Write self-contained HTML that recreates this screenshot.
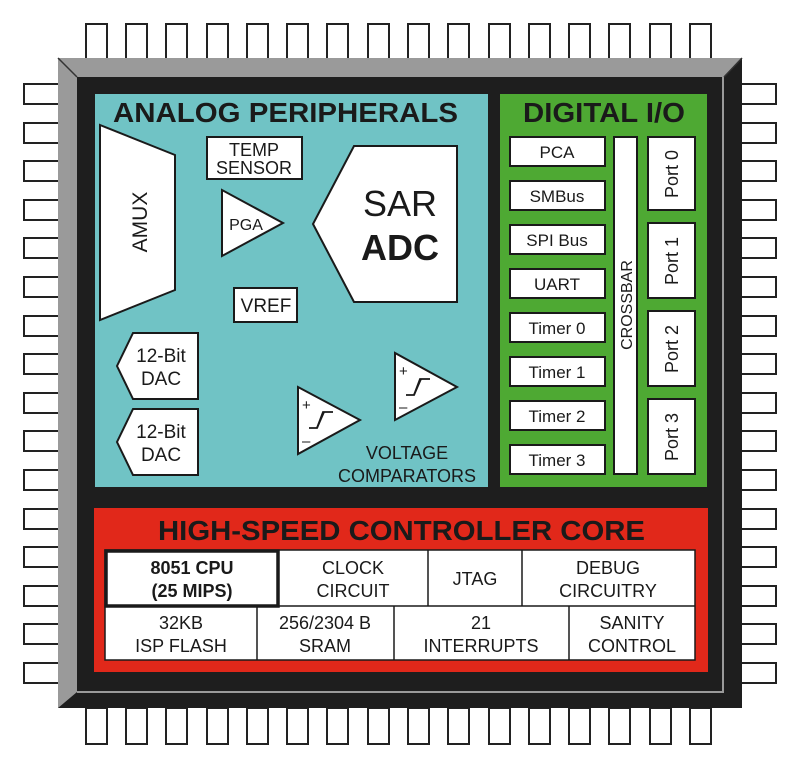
<!DOCTYPE html>
<html><head><meta charset="utf-8"><style>html,body{margin:0;padding:0;background:#fff}svg{display:block}</style></head><body>
<svg width="800" height="767" viewBox="0 0 800 767" xmlns="http://www.w3.org/2000/svg" font-family="Liberation Sans, Arial, sans-serif" fill="#1a1a1a">
<g fill="#fff" stroke="#222" stroke-width="2">
<g id="tp">
<rect x="86" y="24" width="21" height="36"/><rect x="126" y="24" width="21" height="36"/><rect x="166" y="24" width="21" height="36"/><rect x="207" y="24" width="21" height="36"/><rect x="247" y="24" width="21" height="36"/><rect x="287" y="24" width="21" height="36"/><rect x="327" y="24" width="21" height="36"/><rect x="368" y="24" width="21" height="36"/><rect x="408" y="24" width="21" height="36"/><rect x="448" y="24" width="21" height="36"/><rect x="489" y="24" width="21" height="36"/><rect x="529" y="24" width="21" height="36"/><rect x="569" y="24" width="21" height="36"/><rect x="609" y="24" width="21" height="36"/><rect x="650" y="24" width="21" height="36"/><rect x="690" y="24" width="21" height="36"/>
</g>
<use href="#tp" y="684"/>
<g id="lp">
<rect x="24" y="84" width="36" height="20"/><rect x="24" y="123" width="36" height="20"/><rect x="24" y="161" width="36" height="20"/><rect x="24" y="200" width="36" height="20"/><rect x="24" y="238" width="36" height="20"/><rect x="24" y="277" width="36" height="20"/><rect x="24" y="316" width="36" height="20"/><rect x="24" y="354" width="36" height="20"/><rect x="24" y="393" width="36" height="20"/><rect x="24" y="431" width="36" height="20"/><rect x="24" y="470" width="36" height="20"/><rect x="24" y="509" width="36" height="20"/><rect x="24" y="547" width="36" height="20"/><rect x="24" y="586" width="36" height="20"/><rect x="24" y="624" width="36" height="20"/><rect x="24" y="663" width="36" height="20"/>
</g>
<use href="#lp" x="716"/>
</g>
<rect x="58" y="58" width="684" height="650" fill="#1e1e1e"/>
<polygon points="58,58 742,58 724,77 77,77 77,692 58,708" fill="#9a9a9a"/>
<line x1="58" y1="58" x2="77" y2="77" stroke="#333" stroke-width="1.5"/>
<line x1="742" y1="58" x2="724" y2="77" stroke="#333" stroke-width="1.5"/>
<polyline points="77,692 723,692 723,77" fill="none" stroke="#9a9a9a" stroke-width="2"/>
<rect x="95" y="94" width="393" height="393" fill="#70c3c5"/>
<rect x="500" y="94" width="207" height="393" fill="#4ea933"/>
<rect x="94" y="508" width="614" height="164" fill="#e1281a"/>
<text x="113" y="122" font-size="28" font-weight="bold" textLength="345" lengthAdjust="spacingAndGlyphs">ANALOG PERIPHERALS</text>
<text x="523" y="122" font-size="28" font-weight="bold" textLength="162" lengthAdjust="spacingAndGlyphs">DIGITAL I/O</text>
<text x="158" y="540" font-size="28" font-weight="bold" textLength="487" lengthAdjust="spacingAndGlyphs">HIGH-SPEED CONTROLLER CORE</text>
<g fill="#fff" stroke="#1a1a1a" stroke-width="2">
<polygon points="100,125 175,155 175,290 100,320"/>
<rect x="207" y="137" width="95" height="42"/>
<polygon points="222,190 222,256 283,223"/>
<polygon points="354,146 457,146 457,302 354,302 313,224"/>
<rect x="234" y="288" width="63" height="34"/>
<polygon points="133,333 198,333 198,399 133,399 117,366"/>
<polygon points="133,409 198,409 198,475 133,475 117,442"/>
<polygon points="298,387 298,454 360,420"/>
<polygon points="395,353 395,420 457,387"/>
</g>
<g font-size="18" text-anchor="middle">
<text transform="translate(147,222) rotate(-90)" font-size="21">AMUX</text>
<text x="254" y="156">TEMP</text><text x="254" y="174">SENSOR</text>
<text x="246" y="230" font-size="16">PGA</text>
<text x="400" y="216" font-size="36">SAR</text>
<text x="400" y="260" font-size="36" font-weight="bold">ADC</text>
<text x="266" y="312" font-size="19">VREF</text>
<text x="161" y="362" font-size="19">12-Bit</text><text x="161" y="385" font-size="19">DAC</text>
<text x="161" y="438" font-size="19">12-Bit</text><text x="161" y="461" font-size="19">DAC</text>
<text x="407" y="459">VOLTAGE</text><text x="407" y="482">COMPARATORS</text>
</g>
<g fill="none" stroke="#1a1a1a" stroke-width="1.8">
<polyline points="309,428 317,428 323,412 333,412"/>
<polyline points="317,428 324,412"/>
<polyline points="406,395 414,395 420,379 430,379"/>
<polyline points="414,395 421,379"/>
</g>
<g font-size="15"><text x="302" y="410">+</text><text x="302" y="446">–</text><text x="399" y="376">+</text><text x="399" y="412">–</text></g>
<g fill="#fff" stroke="#1a1a1a" stroke-width="2">
<rect x="510" y="137" width="95" height="29"/><rect x="510" y="181" width="95" height="29"/><rect x="510" y="225" width="95" height="29"/><rect x="510" y="269" width="95" height="29"/><rect x="510" y="313" width="95" height="29"/><rect x="510" y="357" width="95" height="29"/><rect x="510" y="401" width="95" height="29"/><rect x="510" y="445" width="95" height="29"/>
<rect x="614" y="137" width="23" height="337"/>
<rect x="648" y="137" width="47" height="73"/><rect x="648" y="223" width="47" height="75"/><rect x="648" y="311" width="47" height="75"/><rect x="648" y="399" width="47" height="75"/>
</g>
<g font-size="17" text-anchor="middle">
<text x="557" y="158">PCA</text><text x="557" y="202">SMBus</text><text x="557" y="246">SPI Bus</text><text x="557" y="290">UART</text><text x="557" y="334">Timer 0</text><text x="557" y="378">Timer 1</text><text x="557" y="422">Timer 2</text><text x="557" y="466">Timer 3</text>
<text transform="translate(632,305) rotate(-90)" font-size="16">CROSSBAR</text>
<text transform="translate(678,174) rotate(-90)" font-size="18">Port 0</text>
<text transform="translate(678,261) rotate(-90)" font-size="18">Port 1</text>
<text transform="translate(678,349) rotate(-90)" font-size="18">Port 2</text>
<text transform="translate(678,437) rotate(-90)" font-size="18">Port 3</text>
</g>
<g fill="#fff" stroke="#1a1a1a" stroke-width="1.5">
<rect x="105" y="550" width="590" height="110"/>
<line x1="105" y1="606" x2="695" y2="606"/>
<line x1="428" y1="550" x2="428" y2="606"/><line x1="522" y1="550" x2="522" y2="606"/>
<line x1="257" y1="606" x2="257" y2="660"/><line x1="394" y1="606" x2="394" y2="660"/><line x1="569" y1="606" x2="569" y2="660"/>
<rect x="106" y="551" width="172" height="55" stroke-width="3.5"/>
</g>
<g font-size="18" text-anchor="middle">
<text x="192" y="574" font-weight="bold">8051 CPU</text><text x="192" y="597" font-weight="bold">(25 MIPS)</text>
<text x="353" y="574">CLOCK</text><text x="353" y="597">CIRCUIT</text>
<text x="475" y="585">JTAG</text>
<text x="608" y="574">DEBUG</text><text x="608" y="597">CIRCUITRY</text>
<text x="181" y="629">32KB</text><text x="181" y="652">ISP FLASH</text>
<text x="325" y="629">256/2304 B</text><text x="325" y="652">SRAM</text>
<text x="481" y="629">21</text><text x="481" y="652">INTERRUPTS</text>
<text x="632" y="629">SANITY</text><text x="632" y="652">CONTROL</text>
</g>
</svg>
</body></html>
